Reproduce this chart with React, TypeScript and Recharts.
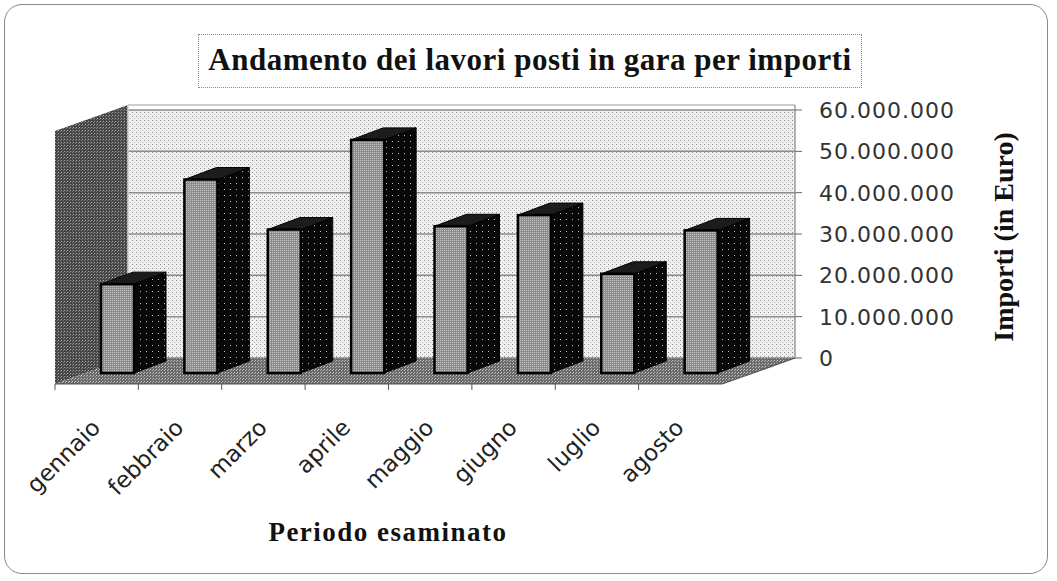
import { BarChart, Bar, XAxis, YAxis, CartesianGrid, ReferenceArea } from 'recharts';

// monthly amounts put out to tender (euro)
const MONTHS = ['gennaio', 'febbraio', 'marzo', 'aprile', 'maggio', 'giugno', 'luglio', 'agosto'];
const IMPORTI = [21500000, 46800000, 34700000, 56400000, 35500000, 38200000, 24000000, 34500000];
const Y_TICKS = [0, 10000000, 20000000, 30000000, 40000000, 50000000, 60000000];

const data = MONTHS.map((m, i) => ({ month: m, importo: IMPORTI[i] }));

// 3D look: floor depth and bar offsets
const WALL_DX = 73;
const WALL_DY = 26;
const FX = -52;
const FY = 15;
const DX = 32;
const DY = 12;
const HALF_BAND = 41.7;

const formatIt = (v: number) => String(v).replace(/\B(?=(\d{3})+(?!\d))/g, '.');

const Patterns = () => (
  <svg width={0} height={0} style={{ position: 'absolute' }}>
    <defs>
      <pattern id="wallDots" width={4} height={4} patternUnits="userSpaceOnUse">
        <rect width={4} height={4} fill="#f0f0f0" />
        <rect x={0} y={0} width={1} height={1} fill="#8a8a8a" />
        <rect x={2} y={2} width={1} height={1} fill="#b8b8b8" />
      </pattern>
      <pattern id="leftWall" width={3} height={3} patternUnits="userSpaceOnUse">
        <rect width={3} height={3} fill="#474747" />
        <rect x={1} y={1} width={1} height={1} fill="#a8a8a8" />
        <rect x={0} y={2} width={1} height={1} fill="#7a7a7a" />
      </pattern>
      <pattern id="floorDots" width={3} height={3} patternUnits="userSpaceOnUse">
        <rect width={3} height={3} fill="#6a6a6a" />
        <rect x={0} y={0} width={1} height={1} fill="#c8c8c8" />
        <rect x={2} y={1} width={1} height={1} fill="#b0b0b0" />
      </pattern>
      <pattern id="frontFace" width={2} height={2} patternUnits="userSpaceOnUse">
        <rect width={2} height={2} fill="#8c8c8c" />
        <rect x={0} y={0} width={1} height={1} fill="#c4c4c4" />
      </pattern>
      <pattern id="sideFace" width={6} height={6} patternUnits="userSpaceOnUse">
        <rect width={6} height={6} fill="#080808" />
        <rect x={2} y={3} width={1} height={1} fill="#bdbdbd" />
      </pattern>
    </defs>
  </svg>
);

const Walls = (props: any) => {
  const { x, y, width, height } = props;
  const top = y - 5;
  const bottom = y + height;
  return (
    <g>
      <polygon
        points={`${x - WALL_DX},${top + WALL_DY} ${x},${top} ${x},${bottom} ${x - WALL_DX},${bottom + WALL_DY}`}
        fill="url(#leftWall)"
      />
      <polygon
        points={`${x - WALL_DX},${bottom + WALL_DY} ${x},${bottom} ${x + width},${bottom} ${x + width - WALL_DX},${bottom + WALL_DY}`}
        fill="url(#floorDots)"
      />
      <line x1={x} y1={top} x2={x + width} y2={top} stroke="#9a9a9a" strokeWidth={1} />
      <line x1={x} y1={top} x2={x} y2={bottom} stroke="#d0d0d0" strokeWidth={1.5} />
      <line x1={x + width} y1={top} x2={x + width} y2={bottom} stroke="#9a9a9a" strokeWidth={1.5} />
      <line x1={x - WALL_DX} y1={bottom + WALL_DY} x2={x + width - WALL_DX} y2={bottom + WALL_DY} stroke="#555" strokeWidth={1.2} />
      <line x1={x + width} y1={bottom} x2={x + width - WALL_DX} y2={bottom + WALL_DY} stroke="#555" strokeWidth={1.2} />
    </g>
  );
};

const Bar3D = (props: any) => {
  const { x, y, width, height } = props;
  const fx = x + FX;
  const fy = y + FY;
  return (
    <g>
      <polygon
        points={`${fx + width},${fy} ${fx + width + DX},${fy - DY} ${fx + width + DX},${fy - DY + height} ${fx + width},${fy + height}`}
        fill="url(#sideFace)"
        stroke="#000"
        strokeWidth={1}
      />
      <polygon
        points={`${fx},${fy} ${fx + DX},${fy - DY} ${fx + width + DX},${fy - DY} ${fx + width},${fy}`}
        fill="#1c1c1c"
        stroke="#000"
        strokeWidth={1}
      />
      <rect x={fx} y={fy} width={width} height={height} fill="url(#frontFace)" stroke="#000" strokeWidth={2.5} />
    </g>
  );
};

const XTick = (props: any) => {
  const { x, y, payload } = props;
  const fx = x - WALL_DX;
  const fy = y + WALL_DY;
  return (
    <g>
      <line x1={fx - HALF_BAND} y1={fy} x2={fx - HALF_BAND} y2={fy + 6} stroke="#555" />
      <text
        transform={`translate(${fx + 5},${fy + 45}) rotate(-45)`}
        textAnchor="end"
        fontFamily="DejaVu Sans"
        fontSize={23}
        fill="#222"
      >
        {payload.value}
      </text>
    </g>
  );
};

const YTick = (props: any) => {
  const { x, y, payload } = props;
  return (
    <g>
      <line x1={x} y1={y} x2={x + 7} y2={y} stroke="#666" />
      <text x={x + 24} y={y} dy={8} textAnchor="start" fontFamily="DejaVu Sans" fontSize={22} letterSpacing={1} fill="#333">
        {formatIt(payload.value)}
      </text>
    </g>
  );
};

const serif = '"Liberation Serif", "Times New Roman", serif';

export default function App() {
  return (
    <div style={{ position: 'absolute', left: 0, top: 0, width: 1057, height: 581, background: '#fff' }}>
      <Patterns />
      <div
        style={{
          position: 'absolute',
          left: 4,
          top: 4,
          width: 1044,
          height: 570,
          border: '1.5px solid #8a8a8a',
          borderRadius: 18,
          boxSizing: 'border-box',
        }}
      />
      <div style={{ position: 'absolute', left: 0, top: 0 }}>
        <BarChart
          width={1057}
          height={581}
          data={data}
          margin={{ top: 110, left: 128, right: 112, bottom: 193 }}
          barSize={33}
        >
          <CartesianGrid vertical={false} fill="url(#wallDots)" stroke="#8c8c8c" strokeWidth={1.5} />
          <ReferenceArea y1={0} y2={60000000} shape={<Walls />} fillOpacity={1} />
          <XAxis
            dataKey="month"
            axisLine={false}
            tickLine={false}
            tickSize={0}
            tickMargin={0}
            interval={0}
            height={30}
            tick={<XTick />}
          />
          <YAxis
            orientation="right"
            domain={[0, 60000000]}
            ticks={Y_TICKS}
            axisLine={false}
            tickLine={false}
            tickSize={0}
            tickMargin={0}
            width={150}
            tick={<YTick />}
          />
          <Bar dataKey="importo" shape={<Bar3D />} isAnimationActive={false} />
        </BarChart>
      </div>
      <div
        style={{
          position: 'absolute',
          left: 198,
          top: 34,
          width: 664,
          height: 54,
          border: '1.5px dotted #8a8a8a',
          boxSizing: 'border-box',
          textAlign: 'center',
          lineHeight: '50px',
          fontFamily: serif,
          fontWeight: 'bold',
          fontSize: 31,
          letterSpacing: 0.5,
          color: '#111',
          whiteSpace: 'nowrap',
        }}
      >
        Andamento dei lavori posti in gara per importi
      </div>
      <div
        style={{
          position: 'absolute',
          left: 1004,
          top: 237,
          transform: 'translate(-50%, -50%) rotate(-90deg)',
          fontFamily: serif,
          fontWeight: 'bold',
          fontSize: 28,
          color: '#111',
          whiteSpace: 'nowrap',
        }}
      >
        Importi (in Euro)
      </div>
      <div
        style={{
          position: 'absolute',
          left: 388,
          top: 532,
          transform: 'translate(-50%, -50%)',
          fontFamily: serif,
          fontWeight: 'bold',
          fontSize: 27,
          letterSpacing: 1.5,
          color: '#111',
          whiteSpace: 'nowrap',
        }}
      >
        Periodo esaminato
      </div>
    </div>
  );
}
